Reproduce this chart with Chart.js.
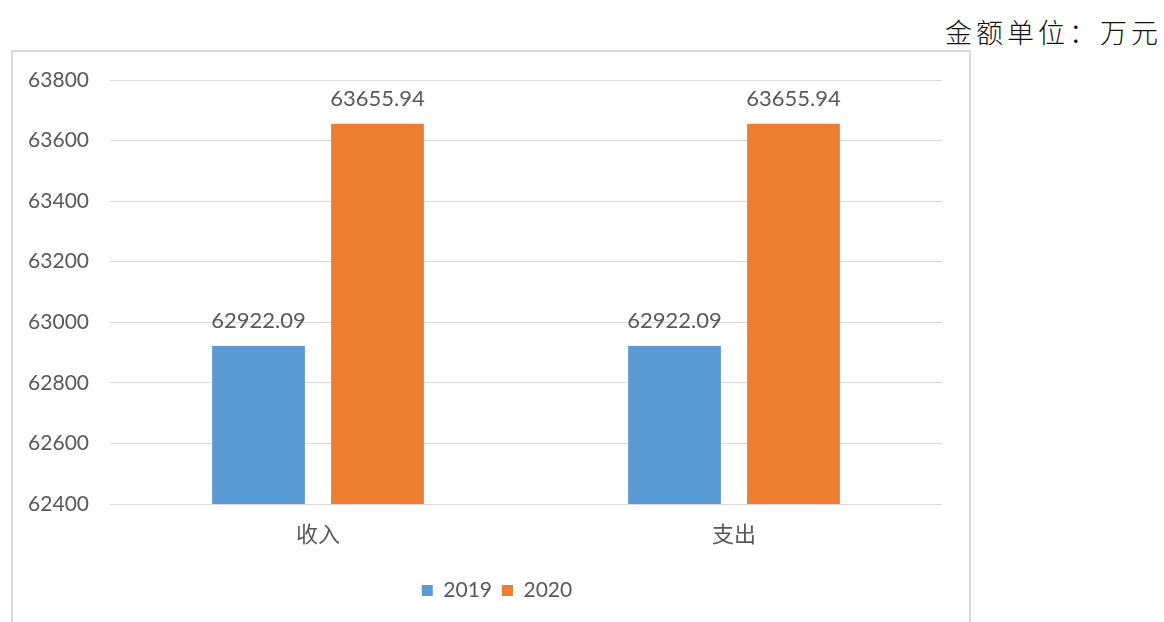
<!DOCTYPE html>
<html>
<head>
<meta charset="utf-8">
<script src="https://cdn.jsdelivr.net/npm/chart.js@4.4.0/dist/chart.umd.min.js"></script>
<style>
    body { margin: 0; background: #fff; width: 1164px; height: 622px; overflow: hidden; position: relative; }
    #unit {
        position: absolute; right: 2px; top: 12px;
        font-family: "Noto Sans CJK SC", sans-serif; font-size: 27px; letter-spacing: 4px;
        color: #111; font-weight: 300;
    }
    #box {
        position: absolute; left: 11px; top: 50px; width: 960px; height: 600px;
        border: 2px solid #d9d9d9; box-sizing: border-box;
    }
    #wrap { position: absolute; left: 12px; top: 52px; width: 957px; height: 570px; }
</style>
</head>
<body>
<div id="unit">金额单位：万元</div>
<div id="box"></div>
<div id="wrap"><canvas id="myChart"></canvas></div>
<script>
// chart data
const categories = ['收入', '支出'];
const seriesNames = ['2019', '2020'];
const values2019 = [62922.09, 62922.09];
const values2020 = [63655.94, 63655.94];
const yTicks = [62400, 62600, 62800, 63000, 63200, 63400, 63600, 63800];

const textColor = '#595959';
const numFont = 'Lato, "Open Sans", sans-serif';
const cjkFont = '"Noto Sans CJK SC", sans-serif';

// draws value labels above each bar
const valueLabels = {
    id: 'valueLabels',
    afterDatasetsDraw(chart) {
        const ctx = chart.ctx;
        ctx.save();
        ctx.fillStyle = textColor;
        ctx.font = '22px ' + numFont;
        ctx.textAlign = 'center';
        ctx.textBaseline = 'alphabetic';
        chart.data.datasets.forEach((ds, i) => {
            chart.getDatasetMeta(i).data.forEach((bar, j) => {
                ctx.fillText(ds.data[j].toFixed(2), bar.x, bar.y - 18);
            });
        });
        ctx.restore();
    }
};

// nudge the legend a bit right, like the original
const legendShift = {
    id: 'legendShift',
    afterLayout(chart) {
        if (chart.legend) {
            chart.legend.left += 20;
            chart.legend.right += 20;
        }
    }
};

const ctx = document.getElementById('myChart').getContext('2d');
new Chart(ctx, {
    type: 'bar',
    data: {
        labels: categories,
        datasets: [{
            label: seriesNames[0],
            data: values2019,
            backgroundColor: '#5B9BD5',
            barPercentage: 0.78,
            categoryPercentage: 0.572
        }, {
            label: seriesNames[1],
            data: values2020,
            backgroundColor: '#ED7D31',
            barPercentage: 0.78,
            categoryPercentage: 0.572
        }]
    },
    options: {
        responsive: true,
        maintainAspectRatio: false,
        animation: false,
        layout: { padding: { top: 28, right: 27, bottom: 11, left: 0 } },
        scales: {
            x: {
                grid: { display: false },
                border: { display: false },
                ticks: {
                    color: textColor,
                    font: { family: cjkFont, size: 22 },
                    padding: 8
                },
                afterFit(scale) { scale.height = 66; }
            },
            y: {
                min: yTicks[0],
                max: yTicks[yTicks.length - 1],
                afterBuildTicks(scale) { scale.ticks = yTicks.map(v => ({ value: v })); },
                grid: { color: '#d9d9d9', lineWidth: 1, drawTicks: false },
                border: { display: false },
                ticks: {
                    color: textColor,
                    font: { family: numFont, size: 21 },
                    padding: 21,
                    callback: (v) => String(v)
                },
                afterFit(scale) {
                    scale.width = 98;
                    scale.paddingTop = 10;
                    scale.paddingBottom = 10;
                }
            }
        },
        plugins: {
            legend: {
                position: 'bottom',
                labels: {
                    color: textColor,
                    font: { family: numFont, size: 21 },
                    boxWidth: 11,
                    boxHeight: 11,
                    padding: 10
                }
            },
            tooltip: { enabled: false }
        }
    },
    plugins: [valueLabels, legendShift]
});
</script>
</body>
</html>
